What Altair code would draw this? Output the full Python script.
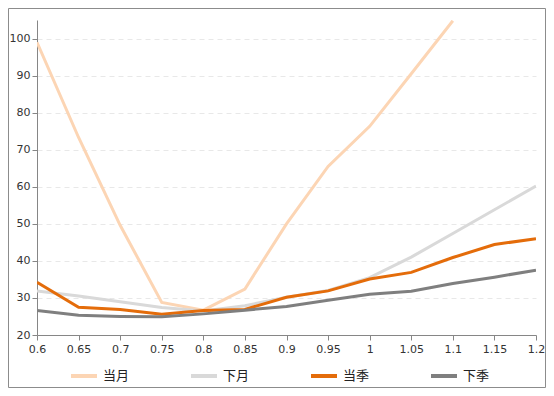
import altair as alt
import pandas as pd

x_vals = [0.6, 0.65, 0.7, 0.75, 0.8, 0.85, 0.9, 0.95, 1.0, 1.05, 1.1, 1.15, 1.2]
series_names = ["当月", "下月", "当季", "下季"]
dangyue = [99.0, 73.3, 49.6, 28.8, 26.7, 32.4, 50.0, 65.5, 76.3, 90.5, 104.8]
xiayue = [31.9, 30.5, 29.0, 27.4, 26.5, 27.9, 30.2, 32.0, 35.5, 41.0, 47.4, 53.8, 60.2]
dangji = [34.2, 27.5, 26.9, 25.6, 26.6, 26.9, 30.2, 31.9, 35.1, 36.9, 40.9, 44.4, 46.0]
xiaji = [26.6, 25.3, 25.0, 24.9, 25.7, 26.7, 27.7, 29.4, 31.0, 31.8, 33.9, 35.6, 37.5]
colors = ["#FCD5B4", "#D9D9D9", "#E46C0A", "#7F7F7F"]
y_ticks = [20, 30, 40, 50, 60, 70, 80, 90, 100]

rows = []
for name, vals in zip(series_names, [dangyue, xiayue, dangji, xiaji]):
    for i, v in enumerate(vals):
        rows.append({"x": x_vals[i], "y": v, "s": name, "o": i})
df = pd.DataFrame(rows)

W, H = 499, 315
PL, PT, PR, PB = 29, 12, 10, 53

lines = alt.Chart(df).mark_line(strokeWidth=3, clip=True).encode(
    x=alt.X("x:Q", scale=alt.Scale(domain=[0.6, 1.2], nice=False, zero=False),
            axis=alt.Axis(values=x_vals, format="~g", title=None, grid=False,
                          domainColor="#868686", tickColor="#868686", tickSize=5,
                          labelFont="DejaVu Sans", labelFontSize=11, labelColor="#333333",
                          labelPadding=3, labelFlush=False)),
    y=alt.Y("y:Q", scale=alt.Scale(domain=[20, 105], nice=False, zero=False),
            axis=alt.Axis(values=y_ticks, title=None, grid=True, gridColor="#E8E8E8",
                          gridDash=[5, 4], domainColor="#868686", tickColor="#868686",
                          tickSize=5, labelFont="DejaVu Sans", labelFontSize=11,
                          labelColor="#333333", labelPadding=2)),
    color=alt.Color("s:N", scale=alt.Scale(domain=series_names, range=colors),
                    legend=alt.Legend(title=None, orient="none", direction="horizontal",
                                      legendX=32, legendY=341, symbolType="stroke",
                                      symbolSize=676, symbolStrokeWidth=4,
                                      labelFont="Noto Sans CJK SC", labelFontSize=13,
                                      labelColor="#222222", columnPadding=53,
                                      labelOffset=4, padding=0)),
    order=alt.Order("o:Q"),
)

border = alt.Chart(pd.DataFrame({"a": [0]})).mark_rect(
    fill=None, stroke="#8C8C8C", strokeWidth=1, clip=False
).encode(
    x=alt.value(-PL + 0.5), x2=alt.value(W + PR - 0.5),
    y=alt.value(-PT + 0.5), y2=alt.value(H + PB - 0.5),
)

chart = alt.layer(border, lines).properties(
    width=W, height=H,
    autosize=alt.AutoSizeParams(type="none"),
    padding={"left": PL, "top": PT, "right": PR, "bottom": PB},
).configure_view(stroke=None)

chart.save("out.html", embed_options={"renderer": "svg", "actions": False})
